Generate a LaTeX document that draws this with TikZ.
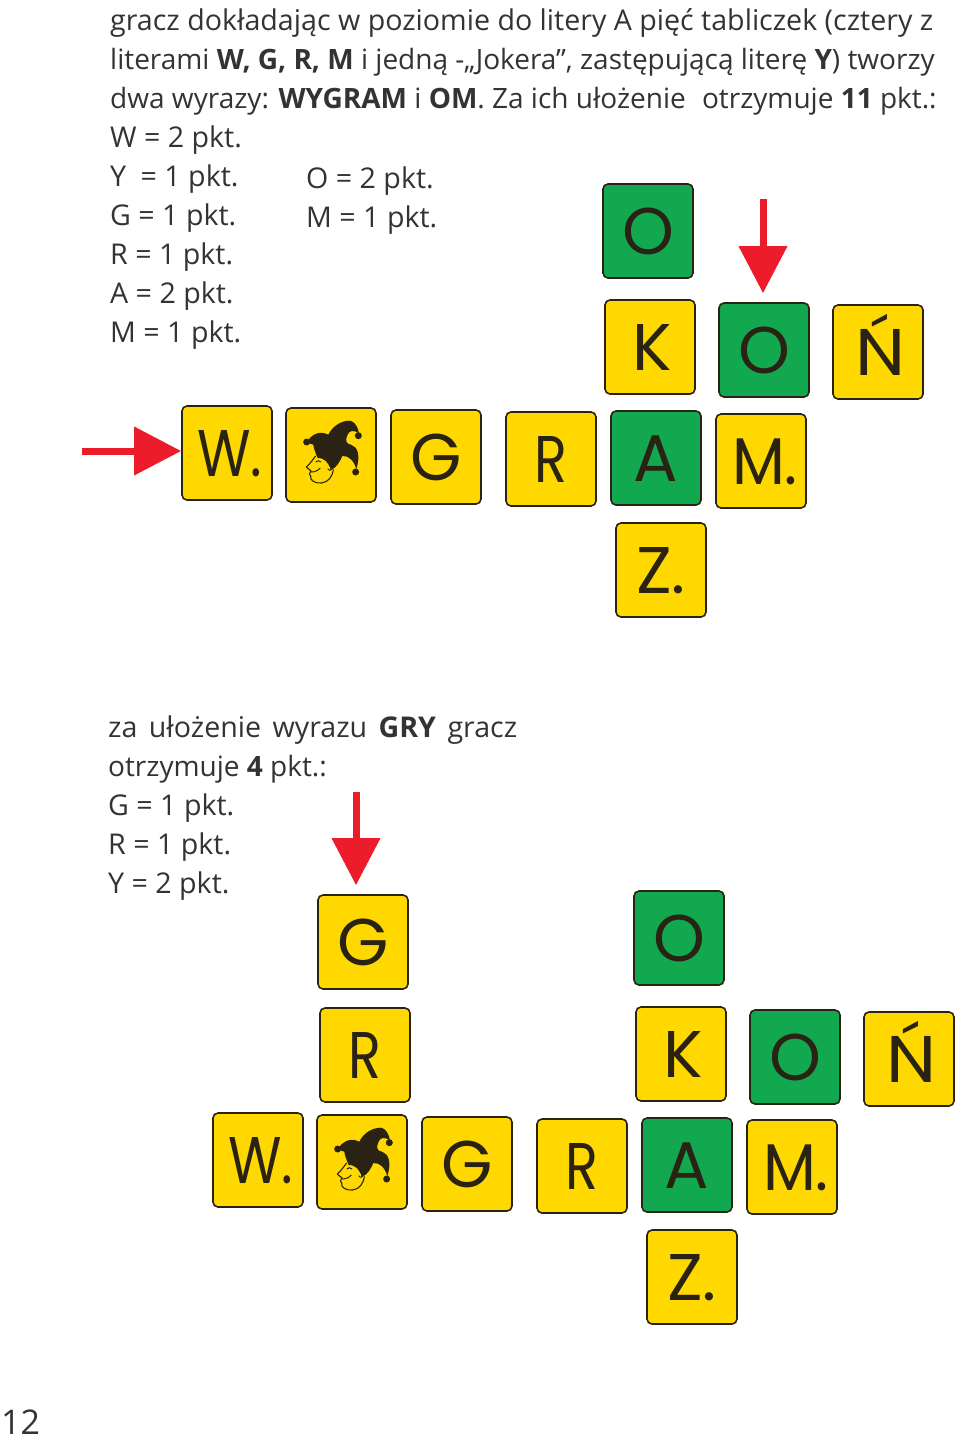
\documentclass[tikz,border=0pt]{standalone}
\usepackage{fontspec}
\usepackage{xcolor}
\usetikzlibrary{arrows.meta}
\setmainfont{Open Sans}
\newfontfamily\tilefont{Poppins}
\definecolor{tileyellow}{HTML}{FFD800}
\definecolor{tilegreen}{HTML}{12A84F}
\definecolor{tileedge}{HTML}{2A2313}
\definecolor{arrowred}{HTML}{ED1C2A}
\definecolor{bodytext}{HTML}{333333}
\newcommand\tileW{\hspace*{6pt}\scalebox{.83}[1]{W.}}
\newcommand\tileM{\hspace*{8pt}\scalebox{.93}[1]{M.}}
\newcommand\tileR{\scalebox{.82}[1]{R}}
\newcommand\tileK{\hspace*{4pt}K}
\newcommand\tileN{\hspace*{6pt}\scalebox{1.08}[1]{Ń}}
\tikzset{
	tile/.style={draw=tileedge,fill=tileyellow,line width=1.6pt,rounded corners=5pt,inner sep=0pt,
		minimum width=90pt,minimum height=94pt,text height=47pt,text depth=0pt,text=tileedge,
		font=\tilefont\fontsize{66}{66}\selectfont},
	greentile/.style={tile,fill=tilegreen},
	line/.style={anchor=base west,inner sep=0pt,text=bodytext,font=\fontsize{28.6}{33}\selectfont},
	tightline/.style={line,font=\fontsize{28}{33}\selectfont},
	redarrow/.style={draw=arrowred,line width=7pt,-{Triangle[width=47pt,length=47pt]}},
	jester/.pic={
		\begin{scope}[scale=0.3333,shift={(-108,-129)}]
		\fill[tileedge] (35,90) .. controls (50,68) and (72,54) .. (100,68) .. controls (110,46) and (135,26) .. (165,26) .. controls (180,28) and (190,48) .. (192,65) .. controls (175,52) and (162,54) .. (156,72) .. controls (150,88) and (155,96) .. (168,98) .. controls (188,104) and (197,130) .. (184,172) .. controls (178,148) and (162,130) .. (142,132) .. controls (134,150) and (126,165) .. (108,174) .. controls (100,152) and (90,138) .. (68,138) .. controls (62,125) and (56,108) .. (55,98) .. controls (48,96) and (42,94) .. (35,90) -- cycle;
		\fill[tileedge] (190,71) circle (10.5);
		\fill[tileedge] (35,90) circle (10.5);
		\fill[tileedge] (182,180) circle (10.5);
		\draw[tileedge,line width=1.1pt,line join=round] (62,132) .. controls (55,140) and (50,150) .. (34,165) .. controls (38,172) and (45,172) .. (48,176) .. controls (42,182) and (42,190) .. (47,192) .. controls (44,205) and (60,215) .. (80,213) .. controls (100,210) and (112,195) .. (115,172);
		\draw[tileedge,line width=1pt] (48,180) .. controls (60,180) and (68,176) .. (76,168);
		\draw[tileedge,line width=1pt] (62,150) .. controls (68,145) and (72,145) .. (78,150);
		\draw[tileedge,line width=1pt] (98,170) .. controls (104,178) and (108,175) .. (110,168);
		\end{scope}
	}
}
\begin{document}
\begin{tikzpicture}[x=1pt,y=-1pt]
	\useasboundingbox (0,0) rectangle (960,1436);
	% upper text
	\node (txta) [line] at (110,30) {gracz dokładając w poziomie do litery A pięć tabliczek (cztery z};
	\node (txtb) [tightline] at (110,69) {literami \textbf{W, G, R, M} i jedną -„Jokera”, zastępującą literę \textbf{Y}) tworzy};
	\node (txtc) [tightline] at (110,108) {dwa wyrazy: \textbf{WYGRAM} i \textbf{OM}. Za ich ułożenie\hspace*{9pt} otrzymuje \textbf{11} pkt.:};
	\node (txtd) [line] at (110,147) {W = 2 pkt.};
	\node (txte) [line] at (110,186) {Y\hspace*{7pt} = 1 pkt.};
	\node (txtf) [line] at (110,225) {G = 1 pkt.};
	\node (txtg) [line] at (110,264) {R = 1 pkt.};
	\node (txth) [line] at (110,303) {A = 2 pkt.};
	\node (txti) [line] at (110,342) {M = 1 pkt.};
	\node (txtj) [line] at (306,188) {O = 2 pkt.};
	\node (txtk) [line] at (306,227) {M = 1 pkt.};
	% upper board
	\node (uo) [greentile] at (648,231) {O};
	\node (uk) [tile] at (650,347) {\tileK};
	\node (uoo) [greentile] at (764,350) {O};
	\node (un) [tile] at (878,352) {\tileN};
	\node (uw) [tile] at (227,453) {\tileW};
	\node (uj) [tile] at (331,455) {};
	\node (ug) [tile] at (436,457) {G};
	\node (ur) [tile] at (551,459) {\tileR};
	\node (ua) [greentile] at (656,458) {A};
	\node (um) [tile] at (761,461) {\tileM};
	\node (uz) [tile] at (661,570) {Z.};
	\pic at (uj.center) {jester};
	\coordinate (ua1) at (763,199);
	\coordinate (ua2) at (82,451);
	\draw[redarrow,shorten >=9pt] (ua1) -- (ua1 |- uoo.north);
	\draw[redarrow] (ua2) -- (ua2 -| uw.west);
	% lower text
	\node (txtl) [line] at (108,737) {za\hspace*{4pt} ułożenie\hspace*{4pt} wyrazu\hspace*{4pt} \textbf{GRY}\hspace*{4pt} gracz};
	\node (txtm) [tightline] at (108,776) {otrzymuje \textbf{4} pkt.:};
	\node (txtn) [line] at (108,815) {G = 1 pkt.};
	\node (txto) [line] at (108,854) {R = 1 pkt.};
	\node (txtp) [line] at (108,893) {Y = 2 pkt.};
	% lower board
	\node (lg) [tile] at (363,942) {G};
	\node (lr) [tile] at (365,1055) {\tileR};
	\node (lo) [greentile] at (679,938) {O};
	\node (lk) [tile] at (681,1054) {\tileK};
	\node (loo) [greentile] at (795,1057) {O};
	\node (ln) [tile] at (909,1059) {\tileN};
	\node (lw) [tile] at (258,1160) {\tileW};
	\node (lj) [tile] at (362,1162) {};
	\node (lgg) [tile] at (467,1164) {G};
	\node (lrr) [tile] at (582,1166) {\tileR};
	\node (la) [greentile] at (687,1165) {A};
	\node (lm) [tile] at (792,1167) {\tileM};
	\node (lz) [tile] at (692,1277) {Z.};
	\pic at (lj.center) {jester};
	\coordinate (la1) at (356,792);
	\draw[redarrow,shorten >=9pt] (la1) -- (la1 |- lg.north);
	% page number
	\node (pagenum) [line,font=\fontsize{34}{34}\selectfont] at (1,1434) {12};
\end{tikzpicture}
\end{document}
